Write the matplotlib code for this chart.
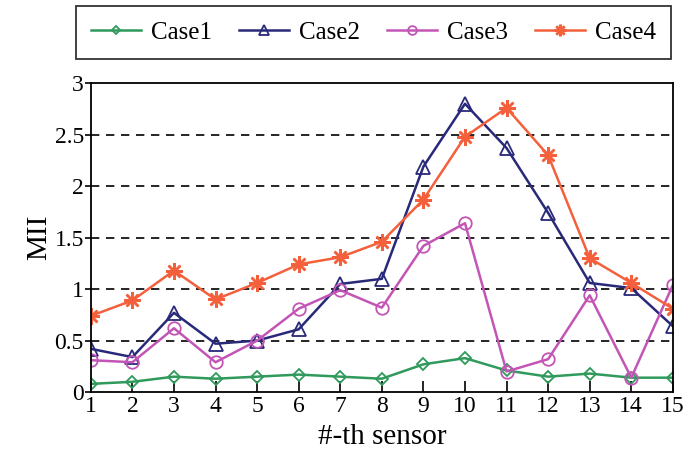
import numpy as np
import matplotlib.pyplot as plt

plt.rcParams['font.family'] = ['Liberation Serif', 'DejaVu Serif']

sensors = np.arange(1, 16)
case1 = [0.08, 0.10, 0.15, 0.13, 0.15, 0.17, 0.15, 0.13, 0.27, 0.33, 0.21, 0.15, 0.18, 0.14, 0.14]
case2 = [0.42, 0.34, 0.77, 0.47, 0.50, 0.61, 1.05, 1.10, 2.19, 2.80, 2.37, 1.74, 1.06, 1.01, 0.64]
case3 = [0.31, 0.29, 0.62, 0.29, 0.50, 0.81, 0.99, 0.82, 1.42, 1.64, 0.20, 0.32, 0.94, 0.14, 1.04]
case4 = [0.74, 0.89, 1.18, 0.90, 1.06, 1.24, 1.31, 1.46, 1.87, 2.48, 2.76, 2.30, 1.30, 1.06, 0.81]
yticks = [0, 0.5, 1, 1.5, 2, 2.5, 3]
ytick_labels = ['0', '0.5', '1', '1.5', '2', '2.5', '3']

fig = plt.figure(figsize=(6.88, 4.57), dpi=100)
ax = fig.add_axes([0.132, 0.142, 0.846, 0.676])

ax.plot(sensors, case1, color='#2f9a5c', marker='D', markersize=6, mfc='none', lw=1.8, mew=1.3, label='Case1')
ax.plot(sensors, case2, color='#29297a', marker='^', markersize=10, mfc='none', lw=1.8, mew=1.3, label='Case2')
ax.plot(sensors, case3, color='#c255b5', marker='o', markersize=9, mfc='none', lw=1.8, mew=1.3, label='Case3')
ax.plot(sensors, case4, color='#f4603c', marker=(8, 2, 0), markersize=12, lw=1.8, mew=1.8, label='Case4')

ax.set_xlim(1, 15)
ax.set_ylim(0, 3)
ax.set_xticks(sensors)
ax.set_yticks(yticks)
ax.set_yticklabels(ytick_labels)
ax.tick_params(axis='x', direction='in', labelsize=17, length=8, width=1.2, pad=3)
ax.tick_params(axis='y', direction='out', labelsize=17, length=4, width=1.2, pad=1)
for y in yticks[1:-1]:
    ax.axhline(y, color='black', ls=(0, (5, 4)), lw=1.2, zorder=0)
for s in ax.spines.values():
    s.set_linewidth(1.3)

ax.set_xlabel('#-th sensor', fontsize=21, labelpad=5)
ax.set_ylabel('MII', fontsize=21, labelpad=2)

leg = fig.legend(loc='lower left', bbox_to_anchor=(0.11, 0.871, 0.866, 0.113), mode='expand',
                 ncol=4, fontsize=18, frameon=True, fancybox=False, edgecolor='black',
                 handlelength=2.0, handletextpad=0.4, columnspacing=1.0, borderaxespad=0,
                 borderpad=0.6, markerscale=0.7)
leg.get_frame().set_linewidth(1.3)

fig.savefig('out.png', dpi=100)
